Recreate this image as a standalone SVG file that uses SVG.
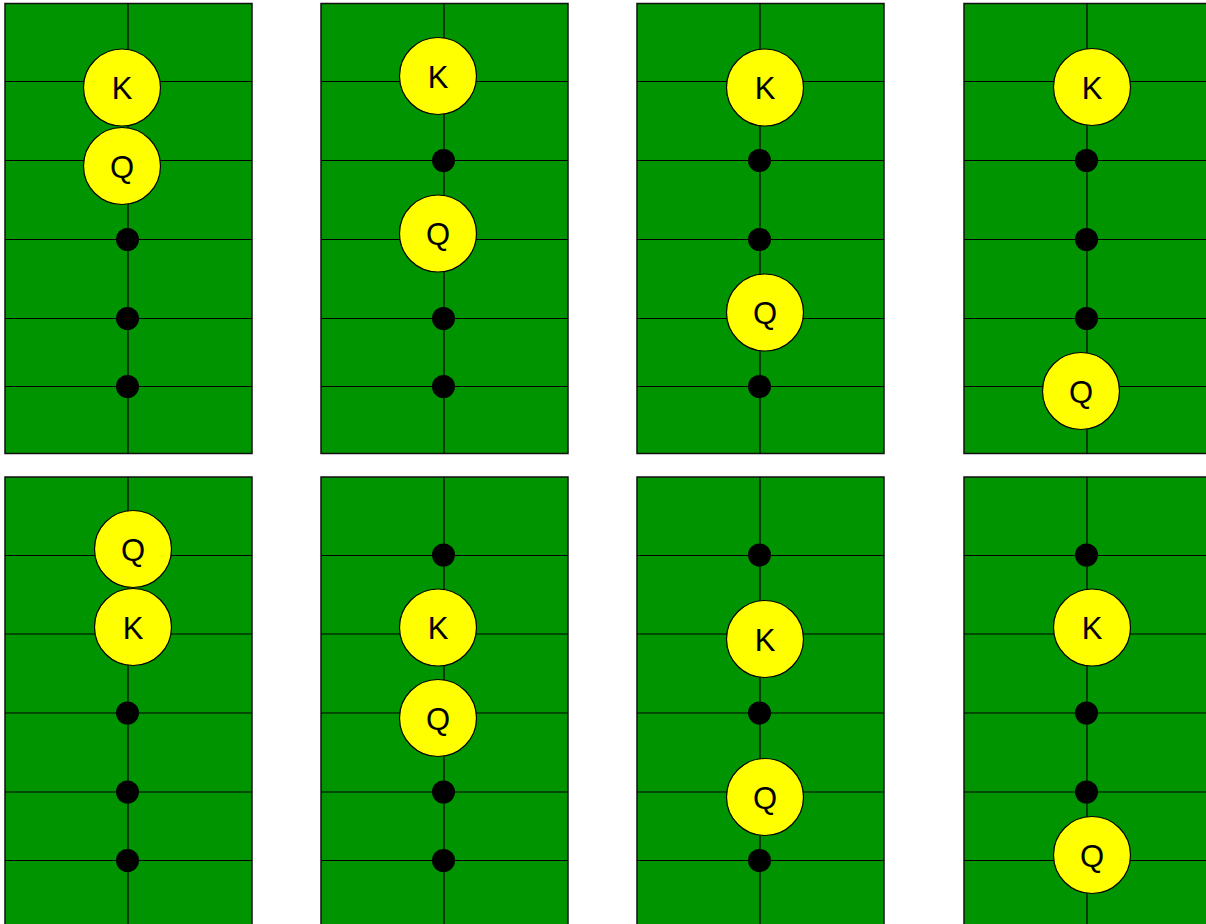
<svg xmlns="http://www.w3.org/2000/svg" width="1206" height="924" viewBox="0 0 1206 924">
<style>
.bg{fill:#009400;stroke:#111;stroke-width:1.5}
.ln{stroke:#000;stroke-width:1.2;fill:none}
.pc{fill:#ffff00;stroke:#000;stroke-width:1.2}
.dot{fill:#000}
.lb{font-family:"Liberation Sans",Arial,sans-serif;font-size:31px;fill:#000;text-anchor:middle}
</style>
<defs>
<g id="gridTop">
<rect class="bg" x="0" y="3.5" width="247" height="450"/>
<path class="ln" d="M123,3.5V453.5M0,81.5H247M0,160.5H247M0,239.5H247M0,318.5H247M0,386.5H247"/>
</g>
<g id="gridBot">
<rect class="bg" x="0" y="477" width="247" height="460"/>
<path class="ln" d="M123,477V924M0,555.5H247M0,634H247M0,713H247M0,792H247M0,860.5H247"/>
</g>
</defs>
<g id="boards">
<use href="#gridTop" x="5"/>
<use href="#gridTop" x="321"/>
<use href="#gridTop" x="637"/>
<use href="#gridTop" x="964"/>
<use href="#gridBot" x="5"/>
<use href="#gridBot" x="321"/>
<use href="#gridBot" x="637"/>
<use href="#gridBot" x="964"/>
</g>
<g id="connectors">
<circle class="dot" cx="127.5" cy="239.5" r="11.5"/>
<circle class="dot" cx="127.5" cy="318.5" r="11.5"/>
<circle class="dot" cx="127.5" cy="386.5" r="11.5"/>
<circle class="dot" cx="443.5" cy="160.5" r="11.5"/>
<circle class="dot" cx="443.5" cy="318.5" r="11.5"/>
<circle class="dot" cx="443.5" cy="386.5" r="11.5"/>
<circle class="dot" cx="759.5" cy="160.5" r="11.5"/>
<circle class="dot" cx="759.5" cy="239.5" r="11.5"/>
<circle class="dot" cx="759.5" cy="386.5" r="11.5"/>
<circle class="dot" cx="1086.5" cy="160.5" r="11.5"/>
<circle class="dot" cx="1086.5" cy="239.5" r="11.5"/>
<circle class="dot" cx="1086.5" cy="318.5" r="11.5"/>
<circle class="dot" cx="127.5" cy="713" r="11.5"/>
<circle class="dot" cx="127.5" cy="792" r="11.5"/>
<circle class="dot" cx="127.5" cy="860.5" r="11.5"/>
<circle class="dot" cx="443.5" cy="555" r="11.5"/>
<circle class="dot" cx="443.5" cy="792" r="11.5"/>
<circle class="dot" cx="443.5" cy="860.5" r="11.5"/>
<circle class="dot" cx="759.5" cy="555" r="11.5"/>
<circle class="dot" cx="759.5" cy="713" r="11.5"/>
<circle class="dot" cx="759.5" cy="860.5" r="11.5"/>
<circle class="dot" cx="1086.5" cy="555" r="11.5"/>
<circle class="dot" cx="1086.5" cy="713" r="11.5"/>
<circle class="dot" cx="1086.5" cy="792" r="11.5"/>
</g>
<g id="p1K"><circle class="pc" cx="122" cy="87.5" r="38.5"/><text class="lb" x="122" y="99">K</text></g>
<g id="p1Q"><circle class="pc" cx="122" cy="166" r="38.5"/><text class="lb" x="122" y="177.5">Q</text></g>
<g id="p2K"><circle class="pc" cx="438" cy="76" r="38.5"/><text class="lb" x="438" y="87.5">K</text></g>
<g id="p2Q"><circle class="pc" cx="438" cy="233.5" r="38.5"/><text class="lb" x="438" y="245">Q</text></g>
<g id="p3K"><circle class="pc" cx="765" cy="87.5" r="38.5"/><text class="lb" x="765" y="99">K</text></g>
<g id="p3Q"><circle class="pc" cx="765" cy="312.5" r="38.5"/><text class="lb" x="765" y="324">Q</text></g>
<g id="p4K"><circle class="pc" cx="1092" cy="87" r="38.5"/><text class="lb" x="1092" y="98.5">K</text></g>
<g id="p4Q"><circle class="pc" cx="1081" cy="391" r="38.5"/><text class="lb" x="1081" y="402.5">Q</text></g>
<g id="p5Q"><circle class="pc" cx="133" cy="549" r="38.5"/><text class="lb" x="133" y="560.5">Q</text></g>
<g id="p5K"><circle class="pc" cx="133" cy="627" r="38.5"/><text class="lb" x="133" y="638.5">K</text></g>
<g id="p6K"><circle class="pc" cx="438" cy="627.5" r="38.5"/><text class="lb" x="438" y="639">K</text></g>
<g id="p6Q"><circle class="pc" cx="438" cy="718" r="38.5"/><text class="lb" x="438" y="729.5">Q</text></g>
<g id="p7K"><circle class="pc" cx="765" cy="639" r="38.5"/><text class="lb" x="765" y="650.5">K</text></g>
<g id="p7Q"><circle class="pc" cx="765" cy="797" r="38.5"/><text class="lb" x="765" y="808.5">Q</text></g>
<g id="p8K"><circle class="pc" cx="1092" cy="627.5" r="38.5"/><text class="lb" x="1092" y="639">K</text></g>
<g id="p8Q"><circle class="pc" cx="1092" cy="855" r="38.5"/><text class="lb" x="1092" y="866.5">Q</text></g>
</svg>
